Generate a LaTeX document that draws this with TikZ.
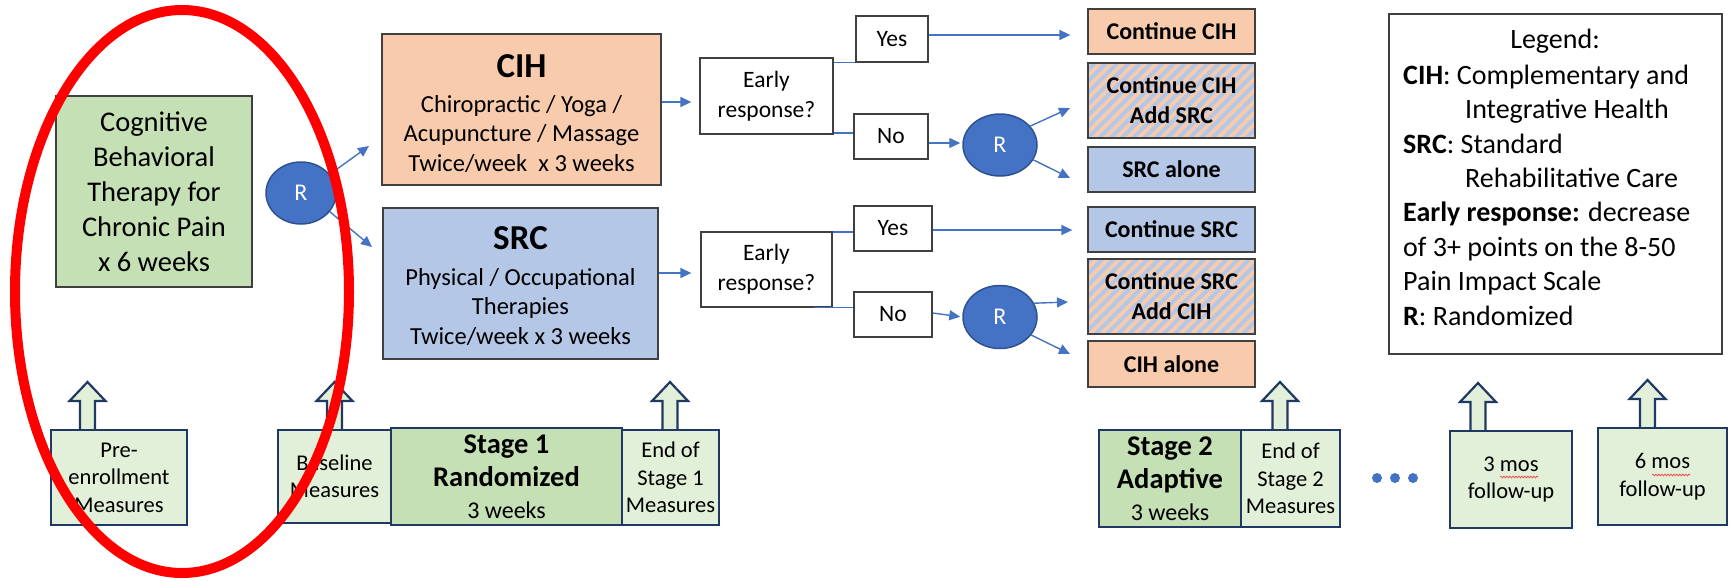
\documentclass[tikz,border=0pt]{standalone}
\usepackage{fontspec}
\setmainfont{Carlito}
\usetikzlibrary{arrows.meta,shapes.geometric,patterns.meta,decorations.pathmorphing}

\definecolor{cbtgreen}{HTML}{C5E0B4}
\definecolor{measgreen}{HTML}{E2F0D9}
\definecolor{cihorange}{HTML}{F8CBAD}
\definecolor{srcblue}{HTML}{B4C7E7}
\definecolor{rblue}{HTML}{4472C4}
\definecolor{rborder}{HTML}{2F528F}
\definecolor{navy}{HTML}{1F3864}
\definecolor{boxgray}{HTML}{404040}
\definecolor{flowblue}{HTML}{4472C4}
\definecolor{inkred}{HTML}{FF0000}

\newcommand\setfs[2]{\fontsize{#1}{#2}\selectfont}

\begin{document}
\begin{tikzpicture}[x=1pt,y=-1pt,
  wh/.style 2 args={minimum width=#1pt, minimum height=#2pt},
  box/.style={draw=boxgray, line width=1.3pt, inner sep=0pt, align=center, text=black},
  cbt/.style={box, fill=cbtgreen, font=\setfs{28.5}{35}},
  arm/.style={box},
  armtitle/.style={inner sep=0pt, font=\setfs{35}{40}\bfseries},
  armtext/.style={inner sep=0pt, align=center, font=\setfs{24.5}{29.5}},
  plain/.style={box, fill=white, font=\setfs{23.5}{30}},
  rnd/.style={ellipse, fill=rblue, draw=rborder, line width=1.5pt, text=white, inner sep=0pt, font=\setfs{24}{28}},
  outc/.style={box, wh={167}{45}, font=\setfs{24}{30}\bfseries},
  hatch/.style={outc, preaction={fill=cihorange}, pattern={Lines[angle=45,distance=8pt,line width=4pt]}, pattern color=srcblue},
  arr/.style={draw=flowblue, line width=1.4pt, -{Triangle[length=11pt,width=10pt]}},
  link/.style={draw=flowblue, line width=1.4pt},
  legtext/.style={inner sep=0pt, font=\setfs{28}{34.4}},
  meas/.style={draw=navy, line width=2.6pt, fill=measgreen, inner sep=0pt, align=center, font=\setfs{22.5}{27.5}},
  stagebox/.style={meas, fill=cbtgreen, font=\setfs{28.5}{33}\bfseries},
  uparr/.pic={\draw[navy, line width=2.2pt, fill=measgreen, line join=miter]
      (-7.5,0) -- (-7.5,-29) -- (-18,-29) -- (0,-48) -- (18,-29) -- (7.5,-29) -- (7.5,0);},
  squig/.style={draw=inkred!80, line width=0.6pt, decorate, decoration={snake, amplitude=0.9pt, segment length=3pt}}
]
\useasboundingbox (0,0) rectangle (1733,581);

% ---------- CBT and first randomisation ----------
\node[cbt, wh={196}{191}] (cbt) at (154,191.5) {Cognitive\\Behavioral\\Therapy for\\Chronic Pain\\x 6 weeks};
\node[rnd, wh={70}{62}] (r1) at (301,193) {R};

% ---------- Stage 1 arms ----------
\node[arm, fill=cihorange, wh={279}{151}] (cih) at (521.5,109.5) {};
\node[armtitle] (cihT) at (521.5,66) {CIH};
\node[armtext] (cihS) at (521.5,134) {Chiropractic / Yoga /\\Acupuncture / Massage\\Twice/week\ \ x 3 weeks};

\node[arm, fill=srcblue, wh={275}{151}] (src) at (520.5,283.5) {};
\node[armtitle] (srcT) at (520.5,238) {SRC};
\node[armtext] (srcS) at (520.5,307) {Physical / Occupational\\Therapies\\Twice/week x 3 weeks};

\coordinate (r1up) at (369,146);
\coordinate (r1dn) at (372,247);
\draw[arr] (r1.33) -- (r1up);
\draw[arr] (r1.-33) -- (r1dn);

% ---------- early response decisions ----------
\node[plain, wh={133}{76}] (er1) at (766.5,96) {Early\\response?};
\node[plain, wh={131}{75}] (er2) at (766.5,269.5) {Early\\response?};

\draw[arr, shorten >=8pt] (cih.east |- 0,102) -- (er1.west |- 0,102);
\draw[arr, shorten >=9pt] (src.east |- 0,273) -- (er2.west |- 0,273);

\node[plain, wh={72}{46}] (yes1) at (892,39) {Yes};
\node[plain, wh={74}{45}] (no1) at (891,136.5) {No};
\node[plain, wh={78}{45}] (yes2) at (893,228.5) {Yes};
\node[plain, wh={78}{45}] (no2) at (893,314.5) {No};

\draw[link] (er1.east |- yes1.south west) -- (yes1.south west);
\draw[link] (er1.east |- 0,133) -- (no1.west |- 0,133);
\draw[link] (er2.east |- 0,232) -- (yes2.west |- 0,232);
\draw[link] ([xshift=-19pt]er2.south east) -- (no2.west |- er2.south east);

\node[rnd, wh={74}{62}] (r2) at (1000,145) {R};
\node[rnd, wh={74}{63}] (r3) at (1000,317) {R};

\draw[arr, shorten >=2pt] (no1.east |- 0,143) -- (r2.west |- 0,143);
\draw[arr, shorten >=2pt] (no2.east |- 0,313) -- (r3.west);

% ---------- Stage 2 outcomes ----------
\node[outc, fill=cihorange] (c1) at (1171.5,31.5) {Continue CIH};
\node[hatch, wh={167}{75}] (c2) at (1171.5,100.5) {Continue CIH\\Add SRC};
\node[outc, fill=srcblue] (c3) at (1171.5,169.5) {SRC alone};
\node[outc, fill=srcblue] (c4) at (1171.5,229.5) {Continue SRC};
\node[hatch, wh={167}{75}] (c5) at (1171.5,296.5) {Continue SRC\\Add CIH};
\node[outc, fill=cihorange, wh={167}{46}] (c6) at (1171.5,364) {CIH alone};

\draw[arr, shorten >=17pt] (yes1.east |- 0,35) -- (c1.west |- 0,35);
\draw[arr, shorten >=15pt] (yes2.east |- 0,230) -- (c4.west |- 0,230);

\coordinate (r2up) at (1070,108);
\coordinate (r2dn) at (1070,178);
\coordinate (r3up) at (1068,302);
\coordinate (r3dn) at (1070,354);
\draw[arr] (r2.32) -- (r2up);
\draw[arr] (r2.-24) -- (r2dn);
\draw[arr] (r3.22) -- (r3up);
\draw[arr] (r3.-30) -- (r3dn);

% ---------- legend ----------
\node[draw=boxgray, line width=1.3pt, wh={333}{340}, inner sep=0pt] (legend) at (1555.5,184) {};
\node[legtext] (legT) at (1555,41) {Legend:};
\node[legtext, anchor=west, align=left] (legB) at (1403,195)
  {\textbf{CIH}: Complementary and\\
   \hspace*{62pt}Integrative Health\\
   \textbf{SRC}: Standard\\
   \hspace*{62pt}Rehabilitative Care\\
   \textbf{Early response:} decrease\\
   of 3+ points on the 8-50\\
   Pain Impact Scale\\
   \textbf{R}: Randomized};

% ---------- timeline ----------
\pic at (87.5,430) {uparr};
\pic at (334.5,430) {uparr};
\pic at (670,430) {uparr};
\pic at (1280,430) {uparr};
\pic at (1478,431) {uparr};
\pic at (1647.5,428) {uparr};

\node[meas, wh={136}{95}] (pre) at (119,477.5) {Pre-\\enrollment\\Measures};
\node[meas, wh={113}{93}] (base) at (334.5,476.5) {Baseline\\Measures};
\node[stagebox, wh={231}{97}] (st1) at (506.5,476.5) {Stage 1\\Randomized\\[-1pt]{\mdseries\setfs{24}{33}3 weeks}};
\node[meas, wh={97}{95}] (end1) at (670.5,477.5) {End of\\Stage 1\\Measures};
\node[stagebox, wh={142}{97}] (st2) at (1170,478.5) {Stage 2\\Adaptive\\[-1pt]{\mdseries\setfs{24}{33}3 weeks}};
\node[meas, wh={99}{97}] (end2) at (1290.5,478.5) {End of\\Stage 2\\Measures};
\node[meas, wh={122}{97}] (m3) at (1511,479.5) {3 mos\\follow-up};
\node[meas, wh={129}{97}] (m6) at (1662.5,476.5) {6 mos\\follow-up};

\draw[squig] ([xshift=-11pt,yshift=2.5pt]m3.center) -- ++(38,0);
\draw[squig] ([xshift=-10.5pt,yshift=1.5pt]m6.center) -- ++(38,0);

\foreach \dx in {1377,1395,1413}
  \fill[rblue] (\dx,478) circle [radius=5pt];

% ---------- highlight ring ----------
\draw[inkred, line width=10pt] (182,291.5) ellipse [x radius=167, y radius=281.5];
\end{tikzpicture}
\end{document}
